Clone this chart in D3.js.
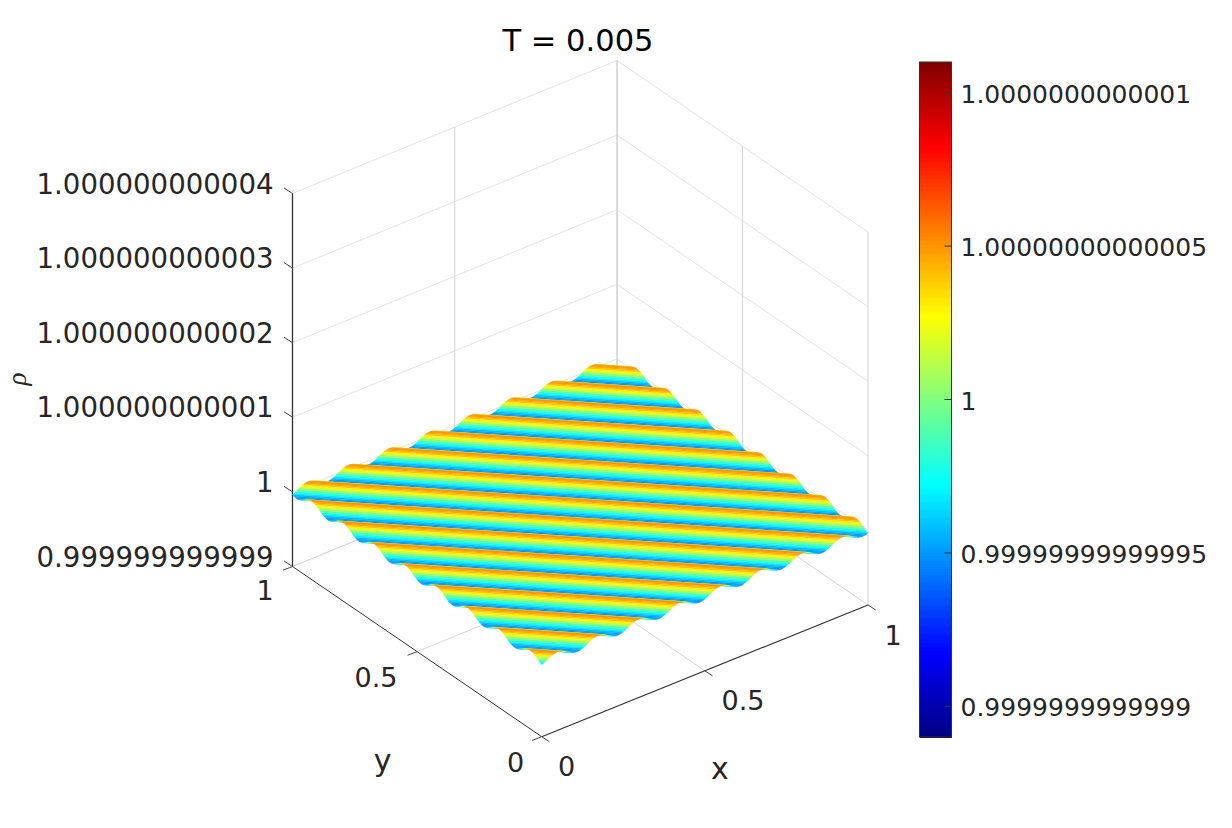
<!DOCTYPE html>
<html>
<head>
<meta charset="utf-8">
<script src="https://cdn.jsdelivr.net/npm/d3@7"></script>
<style>
body { margin: 0; background: #fff; }
text { font-family: "DejaVu Sans", sans-serif; fill: #262626; }
</style>
</head>
<body>
<script>
// values
const titleText = "T = 0.005";
const zTicks = [0.999999999999, 1, 1.000000000001, 1.000000000002, 1.000000000003, 1.000000000004];
const zLabels = ["0.999999999999", "1", "1.000000000001", "1.000000000002", "1.000000000003", "1.000000000004"];
const xyTicks = [0, 0.5, 1];
const xyLabels = ["0", "0.5", "1"];
const cbTicks = [-1, -0.5, 0, 0.5, 1]; // offset from 1, in units of 1e-13
const cbLabels = ["0.9999999999999", "0.99999999999995", "1", "1.00000000000005", "1.0000000000001"];
const cbLimits = [-1.1, 1.1];
// one wave of rho along x+y from the front corner, offset from 1 in units of 1e-13, repeats across the sheet
const waveProfile = [-0.36, -0.26, -0.14, 0, 0.14, 0.26, 0.36, 0.45, 0.5, 0.52, 0.5, 0.45,
                     0.36, 0.26, 0.14, 0, -0.14, -0.26, -0.36, -0.45, -0.5, -0.52, -0.5, -0.45];
const wavesPerUnit = 8;
const backCornerStrips = 6; // the sheet's back tip never shows above the last crest
const jetStops = [0, 0.125, 0.375, 0.625, 0.875, 1];
const jetColors = ["#000080", "#0000ff", "#00ffff", "#ffff00", "#ff0000", "#800000"];

const svg = d3.select("body").append("svg").attr("width", 1232).attr("height", 828);

const xScale = d3.scaleLinear().domain([0, 1]).range([0, 1]);
const yScale = d3.scaleLinear().domain([0, 1]).range([0, 1]);
const zScale = d3.scaleLinear().domain([zTicks[0], zTicks[5]]).range([0, 1]);

// box corners on the floor, and box height in pixels
const c00 = [541.7, 736.7], c10 = [868, 605], c11 = [617, 433.5], c01 = [292.5, 566.5];
const boxH = 373;

function project(x, y, z) {
  const u = xScale(x), v = yScale(y), w = zScale(z);
  const px = c00[0]*(1-u)*(1-v) + c10[0]*u*(1-v) + c11[0]*u*v + c01[0]*(1-u)*v;
  const py = c00[1]*(1-u)*(1-v) + c10[1]*u*(1-v) + c11[1]*u*v + c01[1]*(1-u)*v;
  return [px, py - w*boxH];
}
const zBot = zTicks[0], zTop = zTicks[5];

function seg(g, a, b, color, width) {
  g.append("line").attr("x1", a[0]).attr("y1", a[1]).attr("x2", b[0]).attr("y2", b[1])
    .attr("stroke", color).attr("stroke-width", width);
}

// grid on the two back walls and the floor
const grid = svg.append("g");
const gridH = "#e3e3e3", gridV = "#d4d4d4";
zTicks.forEach(z => {
  seg(grid, project(0, 1, z), project(1, 1, z), gridH, 1);
  seg(grid, project(1, 1, z), project(1, 0, z), gridH, 1);
});
xyTicks.forEach(t => {
  seg(grid, project(t, 1, zBot), project(t, 1, zTop), t == 1 ? "#cccccc" : gridV, 1);
  seg(grid, project(1, t, zBot), project(1, t, zTop), gridV, 1);
  if (t > 0) {
    seg(grid, project(t, 0, zBot), project(t, 1, zBot), "#d8d8d8", 1);
    seg(grid, project(0, t, zBot), project(1, t, zBot), "#d8d8d8", 1);
  }
});

// axes and ticks
const axes = svg.append("g");
const axisCol = "#333333";
seg(axes, project(0, 1, zBot), project(0, 1, zTop), axisCol, 1.3);
seg(axes, project(0, 1, zBot), project(0, 0, zBot), axisCol, 1);
seg(axes, project(0, 0, zBot), project(1, 0, zBot), axisCol, 1.2);
zTicks.forEach(z => {
  const p = project(0, 1, z);
  seg(axes, p, [p[0] - 8.5, p[1] - 5.5], "#444", 1);
});
xyTicks.forEach(t => {
  const px = project(t, 0, zBot);
  seg(axes, px, [px[0] + 7.7, px[1] + 5], "#444", 1);
  const py = project(0, t, zBot);
  seg(axes, py, [py[0] - 9.5, py[1] + 3.7], "#444", 1);
});

// jet colour map over the colour bar limits
const jet = d3.scaleLinear()
  .domain(jetStops.map(s => cbLimits[0] + s*(cbLimits[1] - cbLimits[0])))
  .range(jetColors).interpolate(d3.interpolateRgb);

// surface, painted as strips of constant x+y from the back corner to the front one
const perUnit = wavesPerUnit * waveProfile.length;
const strips = d3.range(2*perUnit - 1 - backCornerStrips, -1, -1);
const rho = i => waveProfile[i % waveProfile.length];
const ends = s => s <= 1 ? [[s, 0], [0, s]] : [[1, s - 1], [s - 1, 1]];
const toZ = d => 1 + d*1e-13;

svg.append("g").selectAll("path").data(strips).join("path")
  .attr("d", i => {
    const [a0, b0] = ends(i/perUnit), [a1, b1] = ends((i + 1)/perUnit);
    const z0 = toZ(rho(i)), z1 = toZ(rho(i + 1));
    return d3.line()([
      project(a0[0], a0[1], z0), project(a1[0], a1[1], z1),
      project(b1[0], b1[1], z1), project(b0[0], b0[1], z0)
    ]) + "Z";
  })
  .attr("fill", i => jet((rho(i) + rho(i + 1))/2))
  .attr("stroke", i => jet((rho(i) + rho(i + 1))/2))
  .attr("stroke-width", 0.3);

// tick labels
const fs = 27.6;
zTicks.forEach((z, i) => {
  const p = project(0, 1, z);
  svg.append("text").attr("x", 273.5).attr("y", p[1] - 9.5).attr("text-anchor", "end")
    .attr("dominant-baseline", "central").attr("font-size", fs).text(zLabels[i]);
});
const xLabelAt = [[566.7, 766], [743, 700], [893, 635]];
const yLabelAt = [[515.7, 762], [376, 677], [265, 590.7]];
xyTicks.forEach((t, i) => {
  svg.append("text").attr("x", xLabelAt[i][0]).attr("y", xLabelAt[i][1]).attr("text-anchor", "middle")
    .attr("dominant-baseline", "central").attr("font-size", 27).text(xyLabels[i]);
  svg.append("text").attr("x", yLabelAt[i][0]).attr("y", yLabelAt[i][1]).attr("text-anchor", "middle")
    .attr("dominant-baseline", "central").attr("font-size", 27).text(xyLabels[i]);
});
svg.append("text").attr("x", 720).attr("y", 768).attr("text-anchor", "middle")
  .attr("dominant-baseline", "central").attr("font-size", 30).text("x");
svg.append("text").attr("x", 382.7).attr("y", 760).attr("text-anchor", "middle")
  .attr("dominant-baseline", "central").attr("font-size", 30).text("y");
svg.append("text").attr("transform", "translate(17,379) rotate(-90)").attr("text-anchor", "middle")
  .attr("dominant-baseline", "central").attr("font-size", 27).attr("font-style", "italic")
  .style("font-family", "'Liberation Serif', serif").text("ρ");
svg.append("text").attr("x", 578).attr("y", 40).attr("text-anchor", "middle")
  .attr("dominant-baseline", "central").attr("font-size", 30.5).style("fill", "#000").text(titleText);

// colour bar
const cbY = d3.scaleLinear().domain(cbLimits).range([737, 62]);
const levels = d3.range(256);
const levelVal = d3.scaleLinear().domain([0, 256]).range(cbLimits);
svg.append("g").attr("shape-rendering", "crispEdges").selectAll("rect").data(levels).join("rect")
  .attr("x", 919.5).attr("width", 32)
  .attr("y", l => cbY(levelVal(l + 1)))
  .attr("height", l => cbY(levelVal(l)) - cbY(levelVal(l + 1)) + 1)
  .attr("fill", l => jet(levelVal(l + 0.5)));
svg.append("rect").attr("x", 919.5).attr("y", 62).attr("width", 32).attr("height", 675)
  .attr("fill", "none").attr("stroke", "#333").attr("stroke-width", 1);
cbTicks.forEach((t, i) => {
  seg(svg, [944.5, cbY(t)], [951.5, cbY(t)], "#333", 1);
  svg.append("text").attr("x", 960.5).attr("y", cbY(t) + 1.5).attr("dominant-baseline", "central")
    .attr("font-size", 25).text(cbLabels[i]);
});
</script>
</body>
</html>
